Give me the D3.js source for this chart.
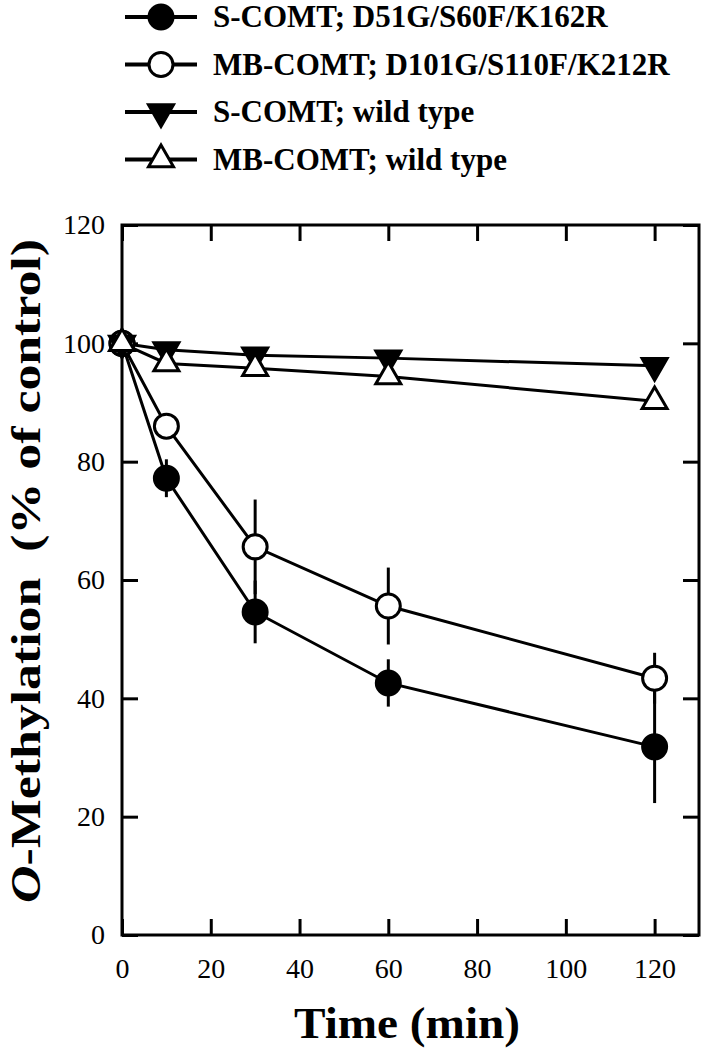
<!DOCTYPE html>
<html>
<head>
<meta charset="utf-8">
<script src="https://cdn.jsdelivr.net/npm/d3@7"></script>
<style>
  body { margin: 0; background: #fff; }
  svg text { font-family: "Liberation Serif", "Times New Roman", serif; fill: #000; }
</style>
</head>
<body>
<div id="chart"></div>
<script>
// time points (min)
const times = [0, 10, 30, 60, 120];

const seriesNames = [
    'S-COMT; D51G/S60F/K162R',
    'MB-COMT; D101G/S110F/K212R',
    'S-COMT; wild type',
    'MB-COMT; wild type'
];
const seriesSymbols = ['circleFilled', 'circleOpen', 'triDown', 'triUp'];

// % of control
const sMutant = [100, 77.2, 54.6, 42.6, 31.8];
const sMutantErr = [0, 3.2, 5.3, 4.0, 9.5];
const mbMutant = [100, 86.0, 65.6, 55.6, 43.4];
const mbMutantErr = [0, 1.5, 8.0, 6.5, 4.3];
const sWild = [100, 98.9, 98.0, 97.5, 96.2];
const sWildErr = [0, 0.6, 0.6, 0.8, 0.8];
const mbWild = [100, 96.6, 95.8, 94.4, 90.2];
const mbWildErr = [0, 0.8, 0.8, 1.2, 0.8];

const xTicks = [0, 20, 40, 60, 80, 100, 120];
const yTicks = [0, 20, 40, 60, 80, 100, 120];

const width = 701, height = 1050;
const margin = { top: 225, right: 2, bottom: 115, left: 122 };

const svg = d3.select('#chart')
    .append('svg')
    .attr('width', width)
    .attr('height', height);

const x = d3.scaleLinear().domain([0, 130]).range([margin.left, width - margin.right]);
const y = d3.scaleLinear().domain([0, 120]).range([height - margin.bottom, margin.top]);

const values = [sMutant, mbMutant, sWild, mbWild];
const errors = [sMutantErr, mbMutantErr, sWildErr, mbWildErr];
const series = seriesNames.map((name, i) => ({
    name: name,
    symbol: seriesSymbols[i],
    points: times.map((t, j) => ({ t: t, v: values[i][j], e: errors[i][j] }))
}));

// axes, ticks pointing inward on all four sides
const tickLen = 16;
const axisStroke = 3;

function styleAxis(g) {
    g.select('.domain').remove();
    g.selectAll('.tick line').attr('stroke', '#000').attr('stroke-width', axisStroke);
    g.selectAll('.tick text').style('font-size', '28px');
}

svg.append('g')
    .attr('transform', `translate(0,${y(0)})`)
    .call(d3.axisBottom(x).tickValues(xTicks).tickSize(-tickLen).tickPadding(23).tickFormat(d3.format('d')))
    .call(styleAxis);

svg.append('g')
    .attr('transform', `translate(0,${y(120)})`)
    .call(d3.axisTop(x).tickValues(xTicks).tickSize(-tickLen).tickFormat(''))
    .call(styleAxis);

svg.append('g')
    .attr('transform', `translate(${x(0)},0)`)
    .call(d3.axisLeft(y).tickValues(yTicks).tickSize(-tickLen).tickPadding(17).tickFormat(d3.format('d')))
    .call(styleAxis);

svg.append('g')
    .attr('transform', `translate(${x(130)},0)`)
    .call(d3.axisRight(y).tickValues(yTicks).tickSize(-tickLen).tickFormat(''))
    .call(styleAxis);

svg.append('rect')
    .attr('x', x(0))
    .attr('y', y(120))
    .attr('width', x(130) - x(0))
    .attr('height', y(0) - y(120))
    .attr('fill', 'none')
    .attr('stroke', '#000')
    .attr('stroke-width', axisStroke);

// marker drawing
const triSize = 270;
function drawMarker(sel, symbol, r) {
    if (symbol === 'circleFilled' || symbol === 'circleOpen') {
        sel.append('circle')
            .attr('r', r)
            .attr('fill', symbol === 'circleFilled' ? '#000' : '#fff')
            .attr('stroke', '#000')
            .attr('stroke-width', 3);
    } else {
        sel.append('path')
            .attr('d', d3.symbol(d3.symbolTriangle, triSize)())
            .attr('transform', symbol === 'triDown' ? 'rotate(180)' : null)
            .attr('fill', symbol === 'triDown' ? '#000' : '#fff')
            .attr('stroke', '#000')
            .attr('stroke-width', 3)
            .attr('stroke-linejoin', 'miter');
    }
}

const line = d3.line().x(d => x(d.t)).y(d => y(d.v));

const plot = svg.append('g');

plot.selectAll('.series-line')
    .data(series)
    .enter()
    .append('path')
    .attr('class', 'series-line')
    .attr('d', d => line(d.points))
    .attr('fill', 'none')
    .attr('stroke', '#000')
    .attr('stroke-width', 3);

series.forEach(s => {
    plot.selectAll(null)
        .data(s.points.filter(p => p.e > 0))
        .enter()
        .append('line')
        .attr('x1', d => x(d.t))
        .attr('x2', d => x(d.t))
        .attr('y1', d => y(d.v - d.e))
        .attr('y2', d => y(d.v + d.e))
        .attr('stroke', '#000')
        .attr('stroke-width', 3);
});

series.forEach(s => {
    plot.selectAll(null)
        .data(s.points)
        .enter()
        .append('g')
        .attr('transform', d => `translate(${x(d.t)},${y(d.v)})`)
        .each(function () { drawMarker(d3.select(this), s.symbol, 12); });
});

// legend
const legend = svg.append('g');
const legendRows = legend.selectAll('.legend-row')
    .data(series)
    .enter()
    .append('g')
    .attr('class', 'legend-row')
    .attr('transform', (d, i) => `translate(0,${17 + i * 47.5})`);

legendRows.append('line')
    .attr('x1', 125)
    .attr('x2', 197)
    .attr('stroke', '#000')
    .attr('stroke-width', 4);

legendRows.append('g')
    .attr('transform', 'translate(161,0)')
    .each(function (d) { drawMarker(d3.select(this), d.symbol, 12); });

legendRows.append('text')
    .attr('x', 213)
    .attr('y', 10)
    .style('font-size', '31px')
    .style('font-weight', 'bold')
    .text(d => d.name);

// axis titles
svg.append('text')
    .attr('x', 407)
    .attr('y', 1038)
    .attr('text-anchor', 'middle')
    .attr('textLength', 226)
    .attr('lengthAdjust', 'spacingAndGlyphs')
    .style('font-size', '44px')
    .style('font-weight', 'bold')
    .text('Time (min)');

const yTitle = svg.append('text')
    .attr('transform', 'translate(40,571) rotate(-90)')
    .attr('text-anchor', 'middle')
    .attr('textLength', 664)
    .attr('lengthAdjust', 'spacingAndGlyphs')
    .style('font-size', '42px')
    .style('font-weight', 'bold');
yTitle.append('tspan').style('font-style', 'italic').text('O');
yTitle.append('tspan').text('-Methylation\u00a0\u00a0(% of control)');
</script>
</body>
</html>
